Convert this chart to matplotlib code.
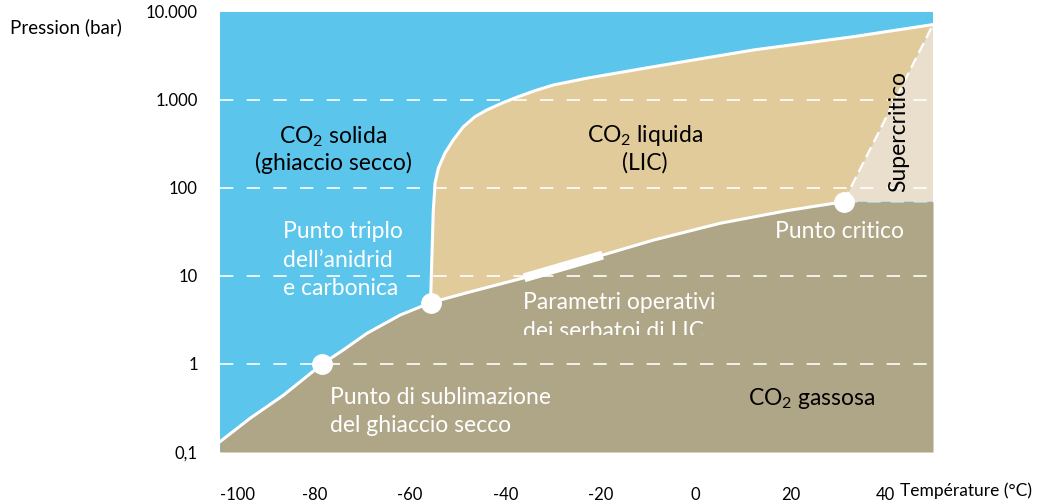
#Phase diagram of CO2 (pressure on a log scale against temperature)
import matplotlib.pyplot as plt
from matplotlib.transforms import Bbox, TransformedBbox

plt.rcParams['font.family'] = ['Lato', 'DejaVu Sans']
plt.rcParams['mathtext.default'] = 'regular'

#Data (temperature in degrees C, pressure in bar)
sub_T = [-100, -93.7, -86.7, -78.5, -74.1, -69.1, -62.1, -55.7]
sub_P = [0.131, 0.241, 0.44, 1.0, 1.44, 2.23, 3.6, 4.98]

vap_T = [-55.7, -47.4, -36.0, -19.5, -8.8, 5.2, 19.2, 31.2]
vap_P = [4.98, 6.6, 9.55, 17.3, 25.6, 39.7, 55.2, 69.8]

melt_T = [-55.7, -55.55, -55.25, -55.13, -54.83, -54.77, -54.07, -52.7, -50.92, -48.8, -46.35,
          -43.9, -40.74, -37.6, -33.73, -29.9, -22.9, -8.8, 12.2, 33.2, 50]
melt_P = [4.98, 9.8, 33.3, 56, 95, 113, 167.5, 248, 351, 497, 646,
          769, 918, 1073, 1276, 1480, 1765, 2390, 3700, 5240, 7200]

#Operating range of the LIC tanks (segment of the vaporization curve)
tank_T = [-36.0, -19.5]
tank_P = [9.55, 17.3]

points_T = [-78.5, -55.7, 31.2]
points_P = [1.0, 4.98, 69.8]

yticks = [0.1, 1, 10, 100, 1000, 10000]
ylabels = ['0,1', '1', '10', '100', '1.000', '10.000']
xticks = [-100, -80, -60, -40, -20, 0, 20, 40]
grid_P = [1, 10, 100, 1000]

#Colors of the phases
solid_c = '#5bc5ec'
liquid_c = '#e2cb9a'
gas_c = '#afa587'
super_c = '#e9dfcc'

fig = plt.figure(figsize=(10.4, 5.03), dpi=100)
ax = fig.add_axes([220/1040, 51/503, 713/1040, 440/503])
ax.set_yscale('log')
ax.set_xlim(-100, 50)
ax.set_ylim(0.1, 10000)
ax.set_facecolor(solid_c)

Tc, Pc = vap_T[-1], vap_P[-1]

#Gas region below sublimation and vaporization curves
low_T = sub_T + vap_T[1:] + [50]
low_P = sub_P + vap_P[1:] + [Pc]
ax.fill_between(low_T, low_P, 0.1, color=gas_c, lw=0, zorder=1)

#Liquid region between melting curve, vaporization curve and supercritical limit
liq_T = melt_T + vap_T[::-1]
liq_P = melt_P + vap_P[::-1]
ax.fill(liq_T, liq_P, color=liquid_c, lw=0, zorder=1)

#Supercritical region
ax.fill([Tc, melt_T[-1], 50], [Pc, melt_P[-1], Pc], color=super_c, lw=0, zorder=1)

#Dashed white reference lines
for p in grid_P:
    ax.axhline(p, color='white', lw=1.2, dashes=(8, 8), zorder=2)
ax.plot([Tc, 50], [Pc, Pc], color='white', alpha=0.45, lw=1.2, dashes=(8, 6), zorder=2)
ax.plot([Tc, melt_T[-1]], [Pc, melt_P[-1]], color='white', lw=1.6, dashes=(5, 2.5), zorder=3)

#Phase boundaries
ax.plot(sub_T + vap_T[1:], sub_P + vap_P[1:], color='white', lw=2.2, zorder=4)
ax.plot(melt_T, melt_P, color='white', lw=2.2, zorder=4)
ax.plot(tank_T, tank_P, color='white', lw=6.5, solid_capstyle='butt', zorder=4)
ax.plot(points_T, points_P, 'o', color='white', ms=14, mec='white', zorder=5)

#Axes and ticks
ax.set_yticks(yticks)
ax.set_yticklabels(ylabels)
ax.minorticks_off()
ax.set_xticks(xticks)
ax.set_xticklabels([str(x) for x in xticks])
ax.get_xticklabels()[0].set_horizontalalignment('left')
ax.tick_params(axis='y', length=0, pad=16, labelsize=12)
ax.tick_params(axis='x', length=0, pad=25, labelsize=12)
for s in ax.spines.values():
    s.set_visible(False)

fig.text(10/1040, 1 - 27/503, 'Pression (bar)', fontsize=13.5, va='center', ha='left')
fig.text(900/1040, 1 - 491/503, 'Température (°C)', fontsize=12.5, va='center', ha='left')

#Labels of the regions, positions in pixels of the figure
def label(x, y, s, color='black', ha='left', **kw):
    return fig.text(x/1040, 1 - y/503, s, color=color, ha=ha, va='baseline', fontsize=16.5, **kw)

label(333, 143, 'CO$_2$ solida', ha='center')
label(333, 170, '(ghiaccio secco)', ha='center')
label(645, 142, 'CO$_2$ liquida', ha='center')
label(645, 170, '(LIC)', ha='center')
label(812, 405, 'CO$_2$ gassosa', ha='center')
fig.text(899/1040, 1 - 132/503, 'Supercritico', rotation=90, fontsize=16.5, ha='center', va='center')

label(283, 238, 'Punto triplo', 'white')
label(283, 267, 'dell’anidrid', 'white')
label(283, 295, 'e carbonica', 'white')
label(523, 309, 'Parametri operativi', 'white')
t = label(523, 338, 'dei serbatoi di LIC', 'white')
t.set_clip_box(TransformedBbox(Bbox([[0, (452 - 335) / 440], [1, 1]]), ax.transAxes))
t.set_clip_on(True)
label(775, 238, 'Punto critico', 'white')
label(330, 404, 'Punto di sublimazione', 'white')
label(330, 432, 'del ghiaccio secco', 'white')

plt.savefig('out.png', dpi=100)
